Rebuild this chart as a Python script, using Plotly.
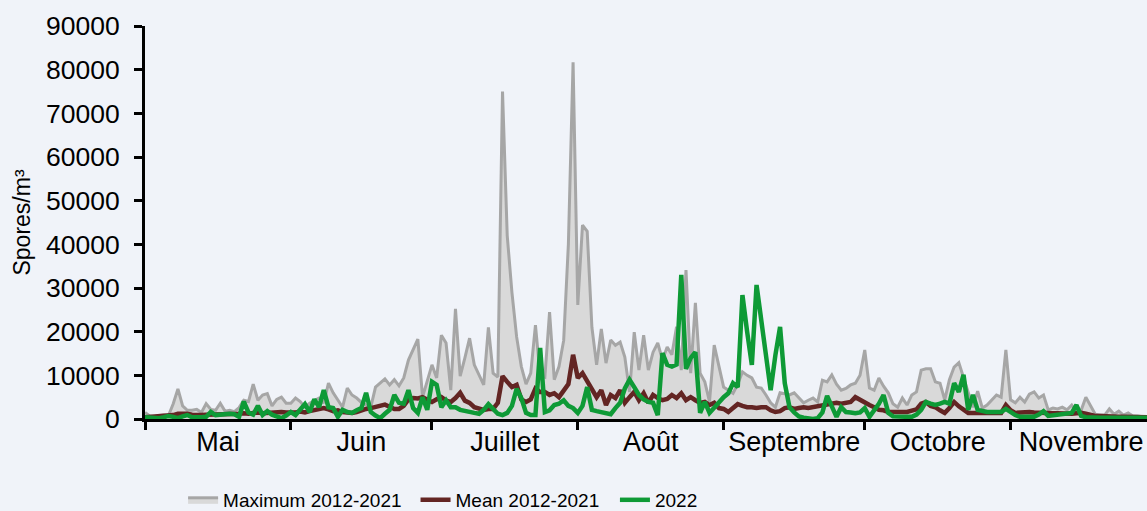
import pandas as pd
import plotly.graph_objects as go

# ---- data (spores / m3, daily, 1 May - 30 Nov) ----
dates = pd.date_range("2022-05-01", "2022-11-30", freq="D")

month_labels = ["Mai", "Juin", "Juillet", "Août", "Septembre", "Octobre", "Novembre"]
month_starts = ["2022-05-01", "2022-06-01", "2022-07-01", "2022-08-01",
                "2022-09-01", "2022-10-01", "2022-11-01", "2022-12-01"]

max_may = [1500, 700, 500, 800, 900, 800, 3500, 6900, 3000, 2000, 2000, 2200, 1500, 3500, 2200, 2000,
           3600, 1800, 2000, 1700, 2600, 4300, 4000, 8000, 4300, 5500, 5800, 3000, 4500, 5000, 3600]
max_jun = [3600, 4800, 4000, 2700, 3600, 4200, 4800, 3600, 8200, 6000, 4300, 2700, 7100, 5500, 4800,
           3800, 3200, 2700, 7300, 8200, 9200, 7800, 9000, 7600, 9400, 13500, 16000, 18300, 5000, 9000]
max_jul = [12400, 9400, 19200, 17400, 6600, 25200, 9800, 14000, 18500, 12400, 10000, 7800, 21000, 10500,
           9600, 75000, 42000, 29000, 18800, 12000, 8000, 10500, 21500, 10000, 9600, 24500, 9000, 12000,
           18000, 40000, 81700]
max_aug = [26100, 44400, 43000, 21000, 12400, 20600, 12800, 18100, 16900, 17600, 14200, 6200, 19900,
           11200, 19200, 11200, 15300, 17400, 13500, 16500, 14700, 21100, 11200, 34100, 10500, 26600,
           10500, 8500, 4000, 16900, 12000]
max_sep = [7300, 6600, 5900, 8000, 10800, 10000, 9400, 7300, 7100, 5500, 3700, 2700, 6000, 5800, 5500,
           6000, 4800, 3700, 4300, 4800, 3900, 8900, 8500, 10100, 8000, 6600, 7000, 7800, 8200, 10000]
max_oct = [15800, 7100, 6600, 9400, 7500, 6000, 3500, 2700, 4800, 3200, 5500, 6200, 11200, 11500, 11500,
           8500, 8200, 4400, 9000, 11900, 12900, 9400, 6200, 2700, 6400, 2500, 3200, 4400, 5500, 5000, 15800]
max_nov = [4400, 3700, 5000, 3900, 5700, 6200, 4800, 5500, 2100, 2500, 2300, 2700, 2100, 3200, 1600,
           2000, 5000, 3200, 1100, 900, 900, 2300, 1100, 1800, 900, 1400, 700, 700, 500, 500]

mean_may = [400, 500, 500, 600, 600, 700, 900, 1200, 1300, 1200, 1000, 900, 900, 1000, 1000, 1100,
            1100, 1000, 1000, 1100, 1200, 1300, 1200, 1400, 1500, 1300, 1400, 1500, 1400, 1600, 1500]
mean_jun = [1400, 1500, 1700, 1500, 1800, 2000, 2300, 2500, 2200, 1800, 2000, 1600, 1500, 1400, 1600,
            2000, 2300, 2500, 2700, 3000, 3300, 2800, 2300, 2300, 3000, 4500, 4800, 4700, 5000, 4400]
mean_jul = [3900, 4500, 5000, 4200, 3900, 4800, 6000, 4200, 3700, 2700, 2400, 2100, 2300, 2300, 3700,
            9800, 8500, 7300, 7800, 4500, 3900, 4500, 7000, 6200, 6200, 5500, 5900, 5000, 6500, 8000, 14700]
mean_aug = [9400, 10500, 8500, 6600, 5000, 6600, 3200, 5500, 4800, 6600, 3700, 5000, 6200, 4300, 5900,
            3700, 5500, 4800, 4300, 4600, 5500, 4800, 5900, 4300, 5000, 4300, 3700, 3900, 3200, 3700, 2500]
mean_sep = [2300, 1600, 2500, 3400, 3000, 2700, 2700, 2500, 2700, 2700, 2000, 1600, 1800, 2500, 2700,
            2300, 2500, 2700, 2500, 2700, 3000, 3200, 3200, 3400, 3700, 3500, 3700, 3900, 5000, 4300]
mean_oct = [3700, 3200, 2700, 2100, 2000, 1600, 1600, 1700, 1600, 1600, 1800, 2200, 3500, 3900, 3000,
            2700, 2000, 1400, 2500, 3900, 2900, 2200, 1400, 1400, 1400, 1500, 1600, 1600, 1500, 1400, 3200]
mean_nov = [2000, 1400, 1500, 1600, 1600, 1500, 1400, 1400, 1400, 1300, 1300, 1200, 1100, 1200, 1300,
            1400, 1200, 900, 700, 700, 600, 600, 600, 500, 500, 500, 500, 400, 400, 400]

y22_may = [400, 300, 200, 200, 400, 700, 500, 200, 600, 900, 400, 300, 400, 500, 1600, 900, 1000,
           1300, 1200, 1100, 500, 4000, 1500, 1000, 3000, 900, 1800, 1000, 500, 200, 800]
y22_jun = [1600, 900, 2000, 3400, 1600, 4500, 2700, 6600, 2700, 2500, 500, 2100, 1600, 1400, 2000,
           2500, 6000, 1600, 800, 200, 1200, 2100, 5500, 3700, 3500, 6600, 2500, 1400, 5000, 2100]
y22_jul = [8500, 7800, 2700, 4300, 2700, 2700, 2100, 1800, 1600, 1400, 1200, 2100, 3400, 2100, 1200,
           900, 1400, 3000, 6900, 4800, 1400, 900, 900, 16300, 1600, 2000, 3200, 3500, 4300, 3000, 2500]
y22_aug = [1400, 3000, 7300, 2100, 1800, 1600, 1300, 1100, 2500, 3700, 7000, 9000, 7300, 5500, 4500,
           3900, 3700, 900, 15100, 12400, 12000, 12500, 33000, 11500, 14000, 15300, 1400, 3900, 1400,
           2700, 3700]
y22_sep = [5000, 5900, 8200, 7300, 28400, 20000, 12400, 30700, 22000, 15000, 6600, 14600, 21100, 8200,
           2700, 1500, 600, 300, 100, 0, 200, 1500, 5300, 2700, 500, 2700, 1600, 1500, 1300, 1500]
y22_oct = [2500, 500, 2000, 3500, 5500, 1400, 600, 500, 400, 500, 500, 1000, 2100, 3900, 3500, 3200,
           3500, 3900, 3500, 8200, 6200, 10100, 2100, 5500, 2100, 1800, 1600, 1600, 1600, 1600, 2300]
y22_nov = [1500, 900, 500, 500, 500, 500, 1000, 1800, 700, 800, 1000, 1100, 1200, 1400, 3200, 700,
           400, 300, 300, 300, 300, 300, 300, 300, 300, 300, 300, 300, 300, 300]

max_2012_2021 = max_may + max_jun + max_jul + max_aug + max_sep + max_oct + max_nov
mean_2012_2021 = mean_may + mean_jun + mean_jul + mean_aug + mean_sep + mean_oct + mean_nov
season_2022 = y22_may + y22_jun + y22_jul + y22_aug + y22_sep + y22_oct + y22_nov

# ---- styling ----
BG = "#F0F3F9"
FONT = "Liberation Sans, Arial, sans-serif"

starts = pd.to_datetime(month_starts)
mids = [starts[i] + (starts[i + 1] - starts[i]) / 2 for i in range(len(month_labels))]

fig = go.Figure()
fig.add_trace(go.Scatter(
    x=dates, y=max_2012_2021, name="Maximum 2012-2021", mode="lines",
    line=dict(color="#A6A6A6", width=3), fill="tozeroy", fillcolor="#D9D9D9",
    legend="legend"))
fig.add_trace(go.Scatter(
    x=dates, y=mean_2012_2021, name="Mean 2012-2021", mode="lines",
    line=dict(color="#632523", width=4.5), legend="legend2"))
fig.add_trace(go.Scatter(
    x=dates, y=season_2022, name="2022", mode="lines",
    line=dict(color="#0E9A36", width=4.5), legend="legend3"))

leg_common = dict(orientation="h", yanchor="middle", y=-0.206, xanchor="left",
                  bgcolor="rgba(0,0,0,0)", font=dict(family=FONT, size=19, color="black"),
                  itemwidth=30)

fig.update_layout(
    width=1147, height=511,
    paper_bgcolor=BG, plot_bgcolor=BG,
    margin=dict(l=145, r=0, t=26, b=92, autoexpand=False),
    font=dict(family=FONT, color="black"),
    showlegend=True,
    legend=dict(x=0.038, **leg_common),
    legend2=dict(x=0.270, **leg_common),
    legend3=dict(x=0.469, **leg_common),
    xaxis=dict(
        type="date",
        range=[dates[0], dates[-1]],
        tickmode="array", tickvals=mids, ticktext=month_labels,
        ticks="", showgrid=False, zeroline=False,
        showline=True, linecolor="black", linewidth=3,
        tickfont=dict(family=FONT, size=27, color="black"),
        ticklabelstandoff=-3,
        minor=dict(tickmode="array", tickvals=list(starts[:-1]), ticks="outside",
                   ticklen=8, tickwidth=3, tickcolor="black", showgrid=False),
    ),
    yaxis=dict(
        range=[0, 90000], tickmode="linear", tick0=0, dtick=10000, tickformat="d",
        ticks="outside", ticklen=8, tickwidth=3, tickcolor="black",
        showline=True, linecolor="black", linewidth=3,
        showgrid=False, zeroline=False,
        tickfont=dict(family=FONT, size=26.5, color="black"),
        ticklabelstandoff=9,
        title=dict(text="Spores/m³", font=dict(family=FONT, size=23, color="black"), standoff=9),
    ),
)

fig.write_html("out.html", config={"displayModeBar": False},
               post_script="document.body.style.margin='0';")
